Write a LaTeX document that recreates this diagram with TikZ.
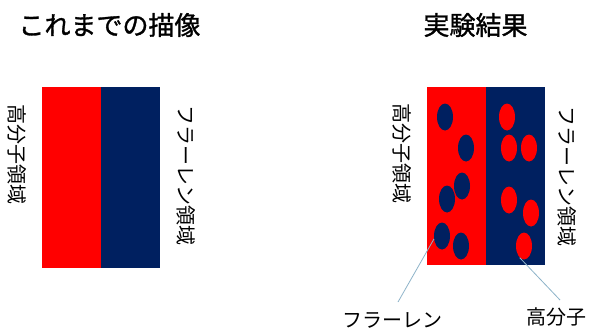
\documentclass[tikz,border=0pt]{standalone}
\usepackage{fontspec}
\setmainfont{Noto Sans CJK JP}
\newfontfamily\ttlfont[FakeBold=1.2]{Noto Sans CJK JP}
\usetikzlibrary{shapes.geometric}
\definecolor{pred}{HTML}{FF0000}
\definecolor{fnavy}{HTML}{002060}
\definecolor{callcol}{RGB}{140,178,200}
\tikzset{
  title/.style={font=\fontsize{26}{30}\ttlfont, inner sep=0pt},
  vlabel/.style={font=\fontsize{20}{24}\selectfont, inner sep=0pt, rotate=-90},
  blabel/.style={font=\fontsize{20}{24}\selectfont, inner sep=0pt},
  fdot/.style={ellipse, fill=fnavy, minimum width=16pt, minimum height=27pt, inner sep=0pt},
  pdot/.style={ellipse, fill=pred, minimum width=16pt, minimum height=27pt, inner sep=0pt},
  callout/.style={draw=callcol, line width=0.8pt}
}
\begin{document}
\begin{tikzpicture}[x=1pt,y=-1pt]
\useasboundingbox (0,0) rectangle (589,330);
% left figure
\node[title] (t1) at (109.5,25) {これまでの描像};
\fill[pred] (42,87) rectangle (101,268);
\fill[fnavy] (101,87) rectangle (160,268);
\node[vlabel] (l1) at (17.5,154) {高分子領域};
\node[vlabel] (l2) at (186,175) {フラーレン領域};
% right figure
\node[title] (t2) at (475.5,25) {実験結果};
\fill[pred] (427,87) rectangle (486,265);
\fill[fnavy] (486,87) rectangle (545,265);
\node[vlabel] (r1) at (402,153) {高分子領域};
\node[vlabel] (r2) at (567.5,176.5) {フラーレン領域};
% dots
\node[fdot] (f1) at (445,117) {};
\node[fdot] (f2) at (466,148) {};
\node[fdot] (f3) at (462,186) {};
\node[fdot] (f4) at (447,199) {};
\node[fdot] (f5) at (442,236) {};
\node[fdot] (f6) at (461,246) {};
\node[pdot] (p1) at (507,117) {};
\node[pdot] (p2) at (509,148) {};
\node[pdot] (p3) at (529,148) {};
\node[pdot] (p4) at (509,200) {};
\node[pdot] (p5) at (531,213) {};
\node[pdot] (p6) at (524,246) {};
% bottom labels and callouts
\node[blabel] (b1) at (392.5,320) {フラーレン};
\node[blabel] (b2) at (556,317) {高分子};
\coordinate (c1) at (398,302);
\coordinate (c2) at (560,300);
\draw[callout] (c1) -- (f5.200);
\draw[callout] (c2) -- (p6.250);
\end{tikzpicture}
\end{document}
